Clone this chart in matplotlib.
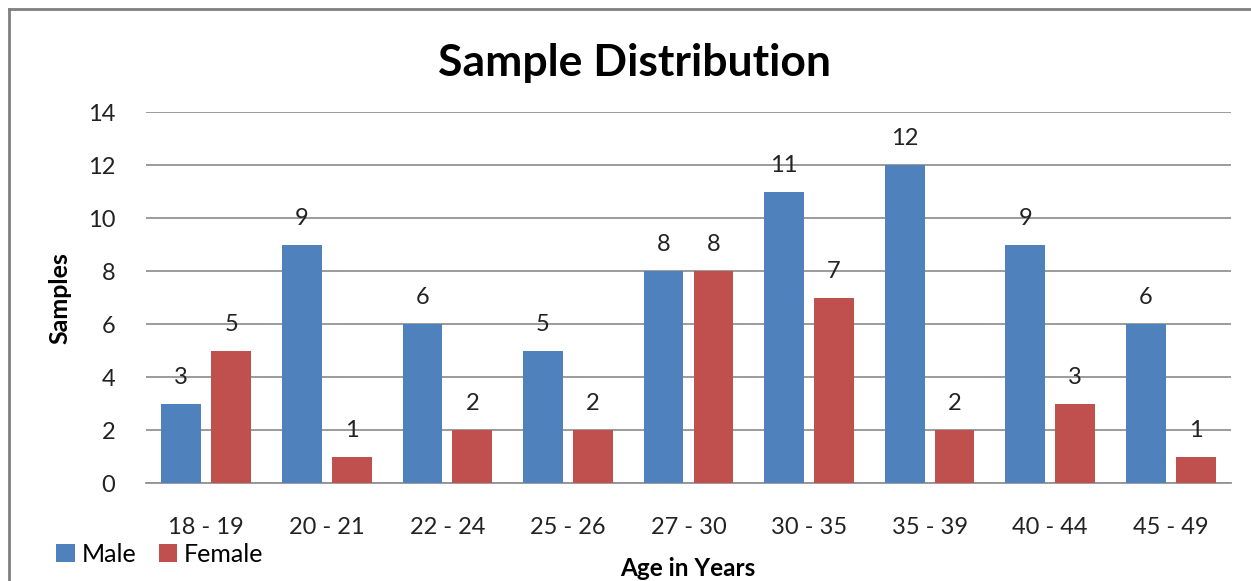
import numpy as np
from matplotlib import pyplot as plt
from matplotlib.lines import Line2D

plt.rcParams['font.family'] = ['Lato', 'DejaVu Sans']

age_groups = ['18 - 19', '20 - 21', '22 - 24', '25 - 26', '27 - 30',
              '30 - 35', '35 - 39', '40 - 44', '45 - 49']
male = [3, 9, 6, 5, 8, 11, 12, 9, 6]
female = [5, 1, 2, 2, 8, 7, 2, 3, 1]

blue = '#4F81BD'
red = '#C0504D'

fig = plt.figure(figsize=(12.51, 5.81), dpi=100)
ax = fig.add_axes([0.1167, 0.1682, 0.8673, 0.6385])

x = np.arange(len(age_groups))
width = 0.33
offset = 0.207
bars_m = ax.bar(x - offset, male, width, color=blue, label='Male', zorder=3)
bars_f = ax.bar(x + offset, female, width, color=red, label='Female', zorder=3)

# value labels above the bars
for bars, vals in ((bars_m, male), (bars_f, female)):
    for b, v in zip(bars, vals):
        ax.annotate(str(v), (b.get_x() + b.get_width() / 2, v),
                    xytext=(0, 19), textcoords='offset points',
                    ha='center', va='center', fontsize=17, color='#222222',
                    zorder=4)

ax.set_xlim(-0.5, len(age_groups) - 0.5)
ax.set_ylim(0, 14)
ax.set_yticks(range(0, 15, 2))
ax.set_xticks(x)
ax.set_xticklabels(age_groups)
ax.tick_params(axis='both', length=0, labelsize=17, colors='#222222')
ax.tick_params(axis='x', pad=24)
ax.tick_params(axis='y', pad=22)
ax.grid(axis='y', color='#939393', linewidth=1.3, zorder=0)

for side in ('top', 'right', 'left'):
    ax.spines[side].set_visible(False)
ax.spines['bottom'].set_color('#939393')
ax.spines['bottom'].set_linewidth(1.3)

ax.set_ylabel('Samples', fontsize=18, fontweight='bold', labelpad=12)
fig.text(0.5495, 5 / 581, 'Age in Years', ha='center', va='baseline',
         fontsize=17.5, fontweight='bold')
fig.text(0.507, 0.892, 'Sample Distribution', ha='center', va='center',
         fontsize=32, fontweight='bold')

ax.legend(loc='lower left', bbox_to_anchor=(0.031, -0.004), bbox_transform=fig.transFigure,
          ncol=2, frameon=False, fontsize=18, handlelength=0.75, handleheight=0.75,
          handletextpad=0.25, columnspacing=0.9, borderaxespad=0.3)

# outer chart frame (cropped at right and bottom)
fig.add_artist(Line2D([9 / 1251, 9 / 1251], [-0.1, 1 - 9 / 581],
                      transform=fig.transFigure, color='#7f7f7f', linewidth=2))
fig.add_artist(Line2D([9 / 1251, 1.1], [1 - 9 / 581, 1 - 9 / 581],
                      transform=fig.transFigure, color='#7f7f7f', linewidth=2))

fig.savefig('out.png', dpi=100)
